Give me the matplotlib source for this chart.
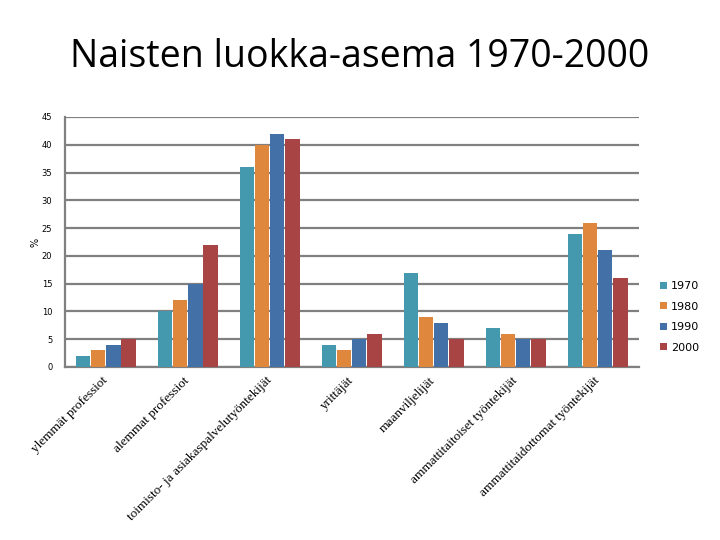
import numpy as np
import matplotlib.pyplot as plt

categories = ['ylemmät professiot', 'alemmat professiot',
              'toimisto- ja asiakaspalvelutyöntekijät', 'yrittäjät',
              'maanviljelijät', 'ammattitaitoiset työntekijät',
              'ammattitaidottomat työntekijät']
years = ['1970', '1980', '1990', '2000']
v1970 = [2, 10, 36, 4, 17, 7, 24]
v1980 = [3, 12, 40, 3, 9, 6, 26]
v1990 = [4, 15, 42, 5, 8, 5, 21]
v2000 = [5, 22, 41, 6, 5, 5, 16]
colors = ['#4599AE', '#DF873C', '#4470A8', '#A94444']

fig = plt.figure(figsize=(7.2, 5.4), dpi=100)
ax = fig.add_axes([0.09, 0.3204, 0.797, 0.463])

x = np.arange(len(categories))
w = 0.175
for i, (vals, c) in enumerate(zip([v1970, v1980, v1990, v2000], colors)):
    ax.bar(x + (i - 1.5) * 0.185, vals, w, color=c, label=years[i], zorder=3)

ax.set_xlim(-0.5, len(categories) - 0.5)
ax.set_ylim(0, 45)
ax.set_yticks(range(0, 50, 5))
ax.tick_params(axis='y', labelsize=6, length=0, pad=9)
ax.tick_params(axis='x', length=0, pad=4)
ax.set_xticks(x)
ax.set_xticklabels(categories, rotation=45, ha='right', va='center',
                   rotation_mode='anchor', family='Liberation Serif', fontsize=9.5)
for lab in ax.get_xticklabels():
    lab.set_y(-0.025)
ax.yaxis.grid(True, color='#808080', linewidth=1.6, zorder=0)
for s in ['top', 'right']:
    ax.spines[s].set_visible(False)
ax.spines['left'].set_color('#808080')
ax.spines['left'].set_linewidth(1.6)
ax.spines['bottom'].set_color('#808080')
ax.spines['bottom'].set_linewidth(1.6)
ax.set_ylabel('%', fontsize=7, labelpad=1)

ax.legend(loc='center left', bbox_to_anchor=(1.02, 0.2), frameon=False,
          fontsize=8, handlelength=0.6, handleheight=0.6, labelspacing=0.95,
          handletextpad=0.4)

fig.suptitle('Naisten luokka-asema 1970-2000', x=0.5, y=0.93,
             fontsize=27, family='Open Sans')

fig.savefig('out.png', dpi=100)
